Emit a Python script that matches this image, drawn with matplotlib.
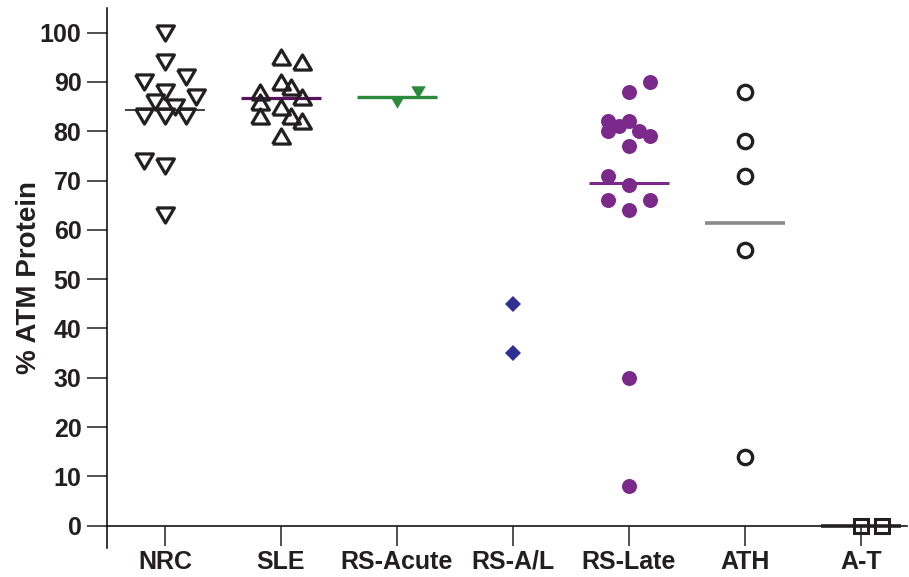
import matplotlib
matplotlib.use('Agg')
import matplotlib.pyplot as plt
import numpy as np

plt.rcParams['font.family'] = ['Liberation Sans', 'DejaVu Sans']
plt.rcParams['font.weight'] = 'bold'

groups = ['NRC', 'SLE', 'RS-Acute', 'RS-A/L', 'RS-Late', 'ATH', 'A-T']

# % ATM protein per sample
nrc = [100, 94, 91, 90, 88, 87, 86, 85, 83, 83, 83, 74, 73, 63]
sle = [95, 94, 90, 89, 88, 86, 87, 85, 83, 83, 82, 79]
rs_acute = [86, 88]
rs_al = [45, 35]
rs_late = [90, 88, 82, 82, 81, 80, 80, 79, 77, 71, 69, 66, 66, 64, 30, 8]
ath = [88, 78, 71, 56, 14]
at = [0, 0]

# horizontal scatter slots (column index within each group)
nrc_slot = [0, 0, 2, -2, 0, 3, -1, 1, -2, 0, 2, -2, 0, 0]
sle_slot = [0, 2, 0, 1, -2, -2, 2, 0, -2, 1, 2, 0]
rs_acute_slot = [0, 2]
rs_al_slot = [0, 0]
rs_late_slot = [2, 0, -2, 0, -1, -2, 1, 2, 0, -2, 0, -2, 2, 0, 0, 0]
ath_slot = [0, 0, 0, 0, 0]
at_slot = [0, 2]

SLOT = 0.09
HALF = 0.345

tri_dn = [(-1, 0.85), (1, 0.85), (0, -0.85), (-1, 0.85)]
tri_up = [(-1, -0.85), (1, -0.85), (0, 0.85), (-1, -0.85)]

# (values, slots, marker, ms, face, edge, mew, mean colour, mean lw)
styles = [
    (nrc, nrc_slot, tri_dn, 12.8, 'none', '#231f20', 2.3, '#231f20', 1.2),
    (sle, sle_slot, tri_up, 12.8, 'none', '#231f20', 2.3, '#5c1060', 2.3),
    (rs_acute, rs_acute_slot, tri_dn, 10.5, '#2b8a3c', '#2b8a3c', 0, '#2b8a3c', 2.4),
    (rs_al, rs_al_slot, 'D', 8.3, '#2e3192', '#2e3192', 0, None, 0),
    (rs_late, rs_late_slot, 'o', 10.8, '#7b2a8c', '#7b2a8c', 0, '#7b2a8c', 2.2),
    (ath, ath_slot, 'o', 10.3, 'none', '#231f20', 2.4, '#8a8a8e', 2.6),
    (at, at_slot, 's', 10.5, 'none', '#231f20', 2.2, '#231f20', 2.6),
]

fig = plt.figure(figsize=(9.09, 5.77), dpi=100)
ax = fig.add_axes([0.1177, 0.0503, 0.8805, 0.936])

for i, (vals, slots, mk, ms, fc, ec, mew, mcol, mlw) in enumerate(styles):
    xs = i + np.array(slots) * SLOT
    ax.plot(xs, vals, linestyle='none', marker=mk, markersize=ms,
            markerfacecolor=fc, markeredgecolor=ec, markeredgewidth=mew,
            zorder=3, clip_on=False)
    if mcol is not None:
        m = np.mean(vals)
        ax.plot([i - HALF, i + HALF], [m, m], color=mcol, linewidth=mlw,
                solid_capstyle='butt', zorder=2)

ax.set_xlim(-0.5, 6.4)
ax.set_ylim(-4.5, 105)
ax.set_xticks(range(len(groups)))
ax.set_xticklabels(groups)
ax.set_yticks(range(0, 101, 10))

for s in ['top', 'right']:
    ax.spines[s].set_visible(False)
ax.spines['bottom'].set_position(('data', 0))
ax.spines['bottom'].set_linewidth(1.1)
ax.spines['left'].set_linewidth(1.1)
ax.spines['bottom'].set_zorder(1)

ax.tick_params(axis='both', length=14.4, width=1.1, labelsize=18,
               colors='#231f20')
ax.tick_params(axis='y', pad=4)
ax.tick_params(axis='x', pad=3)

ax.set_ylabel('% ATM Protein', fontsize=20, fontweight='bold',
              color='#231f20', labelpad=-2)

fig.savefig('out.png', dpi=100)
plt.close(fig)
